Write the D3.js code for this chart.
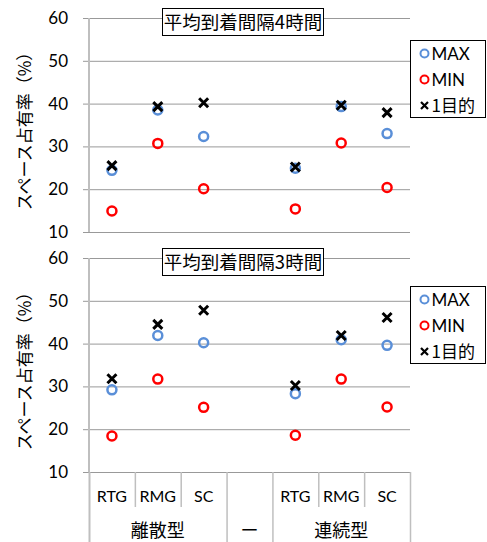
<!DOCTYPE html>
<html><head><meta charset="utf-8">
<script src="https://cdn.jsdelivr.net/npm/d3@7"></script>
<style>
html,body{margin:0;padding:0;background:#fff;}
svg{display:block;}
text{font-family:"Lato","Noto Sans CJK JP",sans-serif;fill:#000;}
.jp{font-family:"Noto Sans CJK JP","Noto Sans",sans-serif;}
</style></head>
<body>
<script>
const categories = ["RTG","RMG","SC","","RTG","RMG","SC"];
const groups = ["離散型","ー","連続型"];
const groupSpans = [3,1,3];
const panelTitles = ["平均到着間隔4時間","平均到着間隔3時間"];
const yTicks = [10,20,30,40,50,60];
const seriesNames = ["MAX","MIN","1目的"];
const max4 = [24.4, 38.5, 32.3, null, 24.9, 39.3, 33.0];
const min4 = [14.9, 30.7, 20.1, null, 15.4, 30.8, 20.4];
const one4 = [25.5, 39.3, 40.2, null, 25.2, 39.6, 37.9];
const max3 = [29.2, 41.9, 40.2, null, 28.3, 40.9, 39.6];
const min3 = [18.4, 31.7, 25.1, null, 18.6, 31.7, 25.2];
const one3 = [31.8, 44.5, 47.8, null, 30.2, 41.9, 46.1];

const W=487,H=542;
const svg=d3.select("body").append("svg").attr("width",W).attr("height",H);
const x=d3.scaleBand().domain(d3.range(categories.length)).range([89,410]).padding(0);
const grid="#999999", axisC="#bfbfbf";
const blue="#5a8fd8", red="#ff0000";

const panels=[
  {top:18,bottom:232,title:panelTitles[0],max:max4,min:min4,one:one4,titleY:8,legY:40},
  {top:258,bottom:472,title:panelTitles[1],max:max3,min:min3,one:one3,titleY:248,legY:286}
];

function xMark(sel,a,b,s,w){
  sel.append("path").attr("d",`M${a-s},${b-s}L${a+s},${b+s}M${a-s},${b+s}L${a+s},${b-s}`)
    .attr("stroke","#000").attr("stroke-width",w).attr("fill","none");
}

panels.forEach(p=>{
  const y=d3.scaleLinear().domain([10,60]).range([p.bottom,p.top]);
  const g=svg.append("g");
  g.selectAll("line.grid").data(yTicks).join("line")
    .attr("x1",83).attr("x2",410).attr("y1",d=>y(d)+0.5).attr("y2",d=>y(d)+0.5)
    .attr("stroke",grid).attr("stroke-width",1);
  g.append("line").attr("x1",89).attr("x2",89).attr("y1",y(60)).attr("y2",y(10))
    .attr("stroke",axisC).attr("stroke-width",2);
  const ya=d3.axisLeft(y).tickValues(yTicks).tickSize(0).tickPadding(0);
  const ag=g.append("g").attr("transform","translate(68,0)").call(ya);
  ag.select(".domain").remove();
  ag.selectAll("text").attr("font-size",17).attr("font-family","Lato, sans-serif").attr("fill","#000");
  g.append("text").attr("class","jp")
    .attr("transform",`translate(31,${(p.top+p.bottom)/2+2}) rotate(-90)`)
    .attr("text-anchor","middle").attr("font-size",17).text("スペース占有率（%）");
  const idx=d3.range(categories.length);
  const cx=i=>x(i)+x.bandwidth()/2;
  g.selectAll("circle.mx").data(idx.filter(i=>p.max[i]!=null)).join("circle")
    .attr("cx",cx).attr("cy",i=>y(p.max[i])).attr("r",4.5)
    .attr("fill","none").attr("stroke",blue).attr("stroke-width",2.5);
  g.selectAll("circle.mn").data(idx.filter(i=>p.min[i]!=null)).join("circle")
    .attr("cx",cx).attr("cy",i=>y(p.min[i])).attr("r",4.5)
    .attr("fill","none").attr("stroke",red).attr("stroke-width",2.5);
  idx.filter(i=>p.one[i]!=null).forEach(i=>xMark(g,cx(i),y(p.one[i]),4.5,3));
  g.append("rect").attr("x",162.5).attr("y",p.titleY+0.5).attr("width",161).attr("height",27)
    .attr("fill","#fff").attr("stroke","#000").attr("stroke-width",1);
  g.append("text").attr("class","jp").attr("x",243).attr("y",p.titleY+21)
    .attr("text-anchor","middle").attr("font-size",18.5).text(p.title);
  const lg=g.append("g").attr("transform",`translate(410.5,${p.legY+0.5})`);
  lg.append("rect").attr("width",75).attr("height",77).attr("fill","#fff").attr("stroke","#000");
  seriesNames.forEach((n,k)=>{
    const yy=13+k*26;
    if(k<2){
      lg.append("circle").attr("cx",14).attr("cy",yy).attr("r",4)
        .attr("fill","none").attr("stroke",k==0?blue:red).attr("stroke-width",2);
      lg.append("text").attr("x",21).attr("y",yy+6).attr("font-size",17).text(n);
    } else {
      xMark(lg,14,yy,3.5,2.2);
      lg.append("text").attr("class","jp").attr("x",21).attr("y",yy+6).attr("font-size",17).text(n);
    }
  });
});

const yb=472;
svg.append("line").attr("x1",83).attr("x2",410).attr("y1",yb+0.5).attr("y2",yb+0.5).attr("stroke",grid);
const bounds=d3.range(categories.length+1).map(i=>i<categories.length?x(i):x.range()[1]);
let cum=[0];groupSpans.forEach(sp=>cum.push(cum[cum.length-1]+sp));
bounds.forEach((bx,i)=>{
  const full=cum.includes(i);
  svg.append("line").attr("x1",bx+0.5).attr("x2",bx+0.5).attr("y1",yb).attr("y2",full?H:507)
    .attr("stroke",axisC).attr("stroke-width",full&&i==0?2:1.5);
});
svg.selectAll("text.cat").data(categories).join("text")
  .attr("x",(d,i)=>x(i)+x.bandwidth()/2).attr("y",502).attr("text-anchor","middle")
  .attr("font-size",16).text(d=>d);
svg.selectAll("text.grp").data(groups).join("text").attr("class","jp")
  .attr("x",(d,i)=>(bounds[cum[i]]+bounds[cum[i+1]])/2).attr("y",537).attr("text-anchor","middle")
  .attr("font-size",18).text(d=>d);
</script>
</body></html>
